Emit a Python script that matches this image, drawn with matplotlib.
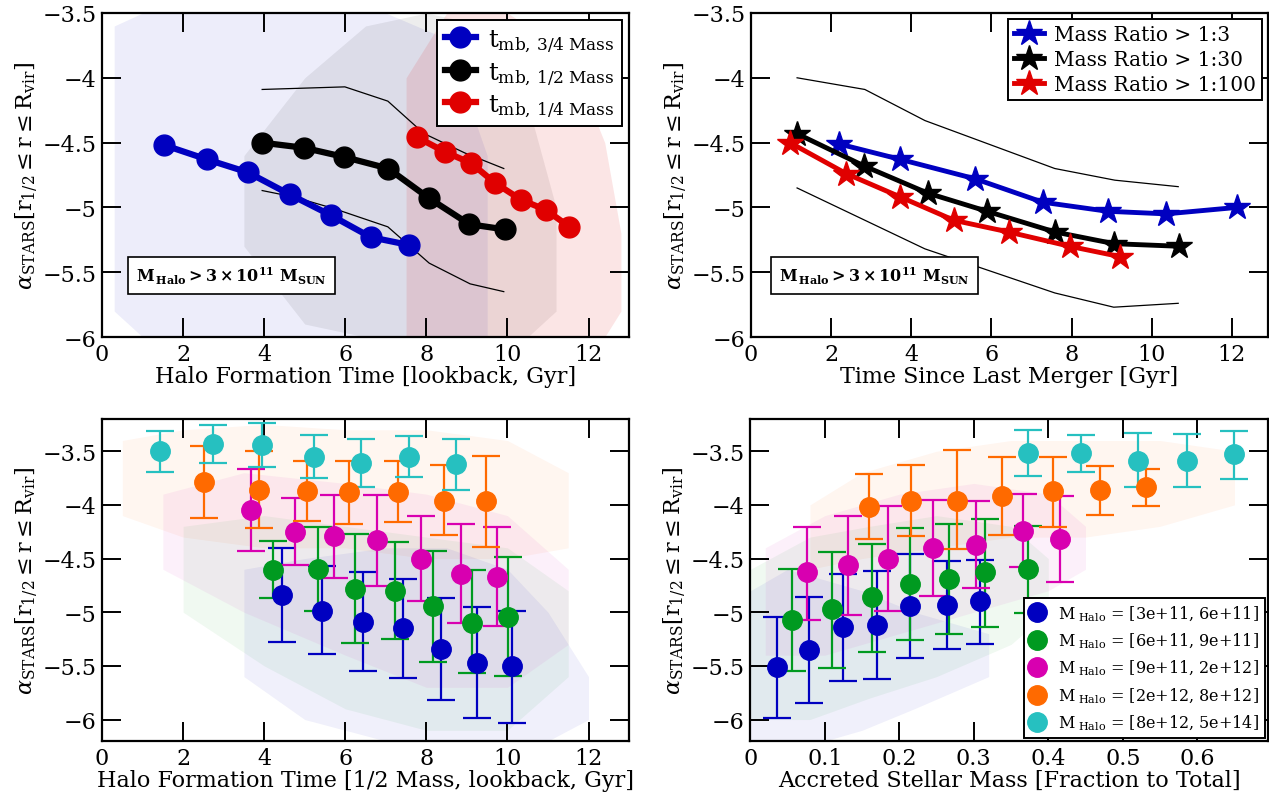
import numpy as np
import matplotlib
matplotlib.use("Agg")
import matplotlib.pyplot as plt
from matplotlib.ticker import FuncFormatter

plt.rcParams['font.family'] = ['DejaVu Serif']
plt.rcParams['mathtext.fontset'] = 'dejavuserif'

# ---- panel 1: halo formation time ----
tl_blue_x = [1.54, 2.59, 3.60, 4.63, 5.64, 6.63, 7.57]
tl_blue_y = [-4.52, -4.63, -4.73, -4.90, -5.06, -5.23, -5.29]
tl_black_x = [3.94, 4.98, 5.96, 7.06, 8.07, 9.06, 9.94]
tl_black_y = [-4.50, -4.54, -4.61, -4.70, -4.93, -5.13, -5.17]
tl_red_x = [7.78, 8.45, 9.11, 9.69, 10.33, 10.95, 11.53]
tl_red_y = [-4.46, -4.57, -4.66, -4.81, -4.94, -5.02, -5.15]
tl_up_x = [3.95, 5.99, 7.05, 7.94, 8.95, 9.91]
tl_up_y = [-4.09, -4.07, -4.18, -4.43, -4.58, -4.70]
tl_lo_x = [3.95, 4.74, 5.73, 7.05, 8.07, 9.08, 9.91]
tl_lo_y = [-4.87, -4.92, -5.01, -5.15, -5.43, -5.59, -5.65]

# scatter clouds, read as rough envelopes
tl_cblue_x = [0.3, 1.0, 3.0, 5.0, 7.0, 8.5, 9.5]
tl_cblue_hi = [-3.6, -3.5, -3.5, -3.5, -3.5, -3.7, -4.6]
tl_cblue_lo = [-5.8, -6.0, -6.0, -6.0, -6.0, -6.0, -6.0]
tl_cblack_x = [3.5, 5.0, 6.5, 8.0, 9.5, 10.5, 11.2]
tl_cblack_hi = [-4.6, -4.0, -3.6, -3.5, -3.6, -4.2, -5.0]
tl_cblack_lo = [-5.3, -5.9, -6.0, -6.0, -6.0, -6.0, -5.8]
tl_cred_x = [7.5, 8.5, 10.0, 11.5, 12.4, 12.8]
tl_cred_hi = [-4.0, -3.5, -3.5, -3.8, -4.5, -5.2]
tl_cred_lo = [-6.0, -6.0, -6.0, -6.0, -6.0, -5.8]

# ---- panel 2: time since last merger ----
tr_blue_x = [2.19, 3.73, 5.60, 7.28, 8.90, 10.36, 12.13]
tr_blue_y = [-4.51, -4.63, -4.78, -4.96, -5.03, -5.05, -5.00]
tr_black_x = [1.14, 2.82, 4.41, 5.89, 7.59, 9.06, 10.69]
tr_black_y = [-4.43, -4.68, -4.89, -5.03, -5.19, -5.28, -5.30]
tr_red_x = [0.97, 2.38, 3.73, 5.07, 6.43, 7.95, 9.21]
tr_red_y = [-4.50, -4.74, -4.92, -5.10, -5.19, -5.30, -5.38]
tr_up_x = [1.15, 2.84, 4.34, 7.58, 9.08, 10.66]
tr_up_y = [-4.00, -4.09, -4.33, -4.70, -4.79, -4.84]
tr_lo_x = [1.15, 4.34, 7.58, 9.05, 10.66]
tr_lo_y = [-4.85, -5.32, -5.66, -5.77, -5.74]

# ---- panel 3: formation time binned by halo mass ----
bl_x = {
    'blue': [4.45, 5.43, 6.43, 7.43, 8.36, 9.26, 10.11],
    'green': [4.22, 5.32, 6.24, 7.22, 8.17, 9.13, 10.01],
    'magenta': [3.67, 4.75, 5.71, 6.78, 7.88, 8.86, 9.74],
    'orange': [2.51, 3.88, 5.05, 6.10, 7.29, 8.44, 9.46],
    'cyan': [1.43, 2.73, 3.95, 5.24, 6.38, 7.57, 8.72],
}
bl_y = {
    'blue': [-4.84, -4.99, -5.09, -5.15, -5.34, -5.47, -5.50],
    'green': [-4.61, -4.60, -4.78, -4.80, -4.94, -5.10, -5.04],
    'magenta': [-4.05, -4.25, -4.29, -4.33, -4.50, -4.64, -4.67],
    'orange': [-3.79, -3.86, -3.87, -3.88, -3.88, -3.96, -3.96],
    'cyan': [-3.50, -3.43, -3.44, -3.55, -3.61, -3.55, -3.62],
}
bl_top = {
    'blue': [-4.40, -4.57, -4.63, -4.69, -4.87, -4.95, -4.99],
    'green': [-4.34, -4.21, -4.27, -4.35, -4.43, -4.61, -4.49],
    'magenta': [-3.67, -3.94, -3.91, -3.91, -4.10, -4.18, -4.21],
    'orange': [-3.45, -3.50, -3.59, -3.59, -3.59, -3.63, -3.54],
    'cyan': [-3.31, -3.26, -3.24, -3.35, -3.39, -3.36, -3.39],
}
bl_bot = {
    'blue': [-5.28, -5.39, -5.55, -5.61, -5.82, -5.99, -6.03],
    'green': [-4.87, -4.99, -5.29, -5.25, -5.46, -5.57, -5.59],
    'magenta': [-4.43, -4.56, -4.68, -4.76, -4.90, -5.10, -5.13],
    'orange': [-4.12, -4.22, -4.15, -4.18, -4.16, -4.28, -4.39],
    'cyan': [-3.69, -3.61, -3.65, -3.75, -3.83, -3.74, -3.86],
}
bl_cloud_x = {
    'blue': [3.5, 5.0, 7.0, 8.5, 10.0, 11.0, 12.0],
    'green': [2.0, 4.0, 6.0, 8.0, 10.0, 11.5],
    'magenta': [1.5, 3.5, 6.0, 8.0, 10.0, 11.5],
    'orange': [0.5, 2.0, 4.0, 6.0, 8.0, 10.0, 11.5],
}
bl_cloud_hi = {
    'blue': [-4.6, -4.5, -4.4, -4.4, -4.6, -5.0, -5.6],
    'green': [-4.2, -4.1, -4.2, -4.3, -4.4, -4.8],
    'magenta': [-3.9, -3.7, -3.8, -3.9, -4.1, -4.6],
    'orange': [-3.4, -3.3, -3.25, -3.3, -3.3, -3.4, -3.7],
}
bl_cloud_lo = {
    'blue': [-5.6, -6.0, -6.2, -6.2, -6.2, -6.2, -6.0],
    'green': [-5.0, -5.5, -5.9, -6.1, -6.1, -5.6],
    'magenta': [-4.6, -5.0, -5.4, -5.7, -5.7, -5.3],
    'orange': [-4.1, -4.3, -4.4, -4.4, -4.5, -4.5, -4.4],
}

# ---- panel 4: accreted stellar mass fraction ----
br_x = {
    'blue': [0.036, 0.079, 0.124, 0.170, 0.215, 0.264, 0.308],
    'green': [0.056, 0.110, 0.163, 0.214, 0.267, 0.315, 0.373],
    'magenta': [0.076, 0.131, 0.185, 0.245, 0.303, 0.366, 0.416],
    'orange': [0.159, 0.216, 0.278, 0.338, 0.406, 0.469, 0.531],
    'cyan': [0.373, 0.444, 0.520, 0.586, 0.649],
}
br_y = {
    'blue': [-5.51, -5.35, -5.14, -5.12, -4.94, -4.93, -4.90],
    'green': [-5.07, -4.97, -4.86, -4.74, -4.69, -4.63, -4.60],
    'magenta': [-4.63, -4.56, -4.50, -4.40, -4.37, -4.24, -4.32],
    'orange': [-4.02, -3.96, -3.96, -3.92, -3.87, -3.86, -3.83],
    'cyan': [-3.52, -3.52, -3.59, -3.59, -3.53],
}
br_top = {
    'blue': [-5.04, -4.86, -4.64, -4.62, -4.46, -4.52, -4.51],
    'green': [-4.60, -4.44, -4.36, -4.22, -4.18, -4.13, -4.20],
    'magenta': [-4.21, -4.10, -4.01, -3.95, -3.96, -3.90, -3.92],
    'orange': [-3.71, -3.63, -3.49, -3.55, -3.55, -3.64, -3.67],
    'cyan': [-3.30, -3.35, -3.33, -3.34, -3.31],
}
br_bot = {
    'blue': [-5.99, -5.85, -5.64, -5.62, -5.43, -5.34, -5.30],
    'green': [-5.55, -5.52, -5.37, -5.26, -5.20, -5.14, -5.01],
    'magenta': [-5.07, -5.03, -4.99, -4.85, -4.77, -4.58, -4.72],
    'orange': [-4.32, -4.29, -4.41, -4.28, -4.21, -4.09, -4.01],
    'cyan': [-3.73, -3.69, -3.83, -3.83, -3.76],
}
br_cloud_x = {
    'blue': [0.0, 0.05, 0.10, 0.15, 0.22, 0.32],
    'green': [0.0, 0.08, 0.16, 0.25, 0.35, 0.40],
    'magenta': [0.02, 0.10, 0.20, 0.30, 0.40, 0.45],
    'orange': [0.08, 0.15, 0.25, 0.35, 0.45, 0.55, 0.65],
}
br_cloud_hi = {
    'blue': [-4.8, -4.6, -4.7, -4.8, -5.0, -5.2],
    'green': [-4.6, -4.3, -4.2, -4.1, -4.2, -4.5],
    'magenta': [-4.4, -4.1, -3.9, -3.8, -3.9, -4.2],
    'orange': [-4.0, -3.7, -3.5, -3.4, -3.4, -3.4, -3.5],
}
br_cloud_lo = {
    'blue': [-6.2, -6.2, -6.2, -6.1, -5.9, -5.6],
    'green': [-6.0, -6.0, -5.8, -5.6, -5.3, -5.0],
    'magenta': [-5.4, -5.4, -5.2, -5.0, -4.8, -4.6],
    'orange': [-4.6, -4.5, -4.4, -4.3, -4.3, -4.2, -4.0],
}

mass_bins = ['[3e+11, 6e+11]', '[6e+11, 9e+11]', '[9e+11, 2e+12]',
             '[2e+12, 8e+12]', '[8e+12, 5e+14]']
bin_keys = ['blue', 'green', 'magenta', 'orange', 'cyan']
colors = {'blue': '#0000c0', 'green': '#009a20', 'magenta': '#d800b0',
          'orange': '#ff6a00', 'cyan': '#26c0c0', 'red': '#e00000',
          'black': '#000000'}

ylabel = r'$\alpha_{\rm STARS}[\rm r_{1/2} \leq r \leq R_{vir}]$'
note = r'$\mathbf{M_{\,Halo} > 3 \times 10^{11}\ M_{SUN}}$'


def fmt(v, pos):
    return ('%g' % v).replace('-', '\u2212')


def style(ax, xlim, ylim, xticks, yticks, xlabel):
    ax.set_xlim(*xlim)
    ax.set_ylim(*ylim)
    ax.set_xticks(xticks)
    ax.set_yticks(yticks)
    ax.xaxis.set_major_formatter(FuncFormatter(fmt))
    ax.yaxis.set_major_formatter(FuncFormatter(fmt))
    ax.tick_params(direction='in', length=14, width=1.4, labelsize=16,
                   top=True, right=True, pad=4)
    for s in ax.spines.values():
        s.set_linewidth(1.6)
    ax.set_xlabel(xlabel, fontsize=16, labelpad=0)
    ax.set_ylabel(ylabel, fontsize=16, labelpad=2)


def note_box(ax, x, y):
    ax.text(x, y, note, transform=ax.transAxes, fontsize=11.5, va='center',
            ha='left', zorder=10,
            bbox=dict(boxstyle='square,pad=0.5', fc='white', ec='black', lw=1.2))


fig = plt.figure(figsize=(12.69, 8.04), dpi=100)
ax1 = fig.add_axes([0.0804, 0.5796, 0.4153, 0.4030])
ax2 = fig.add_axes([0.5918, 0.5796, 0.4074, 0.4030])
ax3 = fig.add_axes([0.0804, 0.0771, 0.4153, 0.4005])
ax4 = fig.add_axes([0.5913, 0.0771, 0.4079, 0.4005])

# panel 1
ax1.fill_between(tl_cblue_x, tl_cblue_lo, tl_cblue_hi, color=colors['blue'], alpha=0.07, lw=0)
ax1.fill_between(tl_cblack_x, tl_cblack_lo, tl_cblack_hi, color='black', alpha=0.07, lw=0)
ax1.fill_between(tl_cred_x, tl_cred_lo, tl_cred_hi, color=colors['red'], alpha=0.10, lw=0)
ax1.plot(tl_up_x, tl_up_y, color='black', lw=0.9)
ax1.plot(tl_lo_x, tl_lo_y, color='black', lw=0.9)
ax1.plot(tl_blue_x, tl_blue_y, '-o', color=colors['blue'], lw=4.5, ms=15,
         label=r'$\rm t_{mb,\,3/4\;Mass}$')
ax1.plot(tl_black_x, tl_black_y, '-o', color='black', lw=4.5, ms=15,
         label=r'$\rm t_{mb,\,1/2\;Mass}$')
ax1.plot(tl_red_x, tl_red_y, '-o', color=colors['red'], lw=4.5, ms=15,
         label=r'$\rm t_{mb,\,1/4\;Mass}$')
style(ax1, (0, 13), (-6, -3.5), range(0, 13, 2), np.arange(-6, -3.4, 0.5),
      'Halo Formation Time [lookback, Gyr]')
ax1.legend(loc='upper right', fontsize=17.5, fancybox=False, edgecolor='black',
           framealpha=1, handlelength=1.3, borderaxespad=0.3, labelspacing=0.25,
           handletextpad=0.5, borderpad=0.3).get_frame().set_linewidth(1.4)
note_box(ax1, 0.065, 0.19)

# panel 2
ax2.plot(tr_up_x, tr_up_y, color='black', lw=0.9)
ax2.plot(tr_lo_x, tr_lo_y, color='black', lw=0.9)
ax2.plot(tr_blue_x, tr_blue_y, '-*', color=colors['blue'], lw=3.5, ms=19,
         label='Mass Ratio > 1:3')
ax2.plot(tr_black_x, tr_black_y, '-*', color='black', lw=3.5, ms=19,
         label='Mass Ratio > 1:30')
ax2.plot(tr_red_x, tr_red_y, '-*', color=colors['red'], lw=3.5, ms=19,
         label='Mass Ratio > 1:100')
style(ax2, (0, 12.9), (-6, -3.5), range(0, 13, 2), np.arange(-6, -3.4, 0.5),
      'Time Since Last Merger [Gyr]')
ax2.legend(loc='upper right', fontsize=14.5, fancybox=False, edgecolor='black',
           framealpha=1, handlelength=1.5, borderaxespad=0.3, labelspacing=0.3,
           handletextpad=0.5, borderpad=0.3).get_frame().set_linewidth(1.4)
note_box(ax2, 0.055, 0.19)

# panel 3
for k in ['orange', 'magenta', 'green', 'blue']:
    ax3.fill_between(bl_cloud_x[k], bl_cloud_lo[k], bl_cloud_hi[k],
                     color=colors[k], alpha=0.06, lw=0)
for k in bin_keys:
    y = np.array(bl_y[k])
    err = [y - np.array(bl_bot[k]), np.array(bl_top[k]) - y]
    ax3.errorbar(bl_x[k], y, yerr=err, fmt='o', color=colors[k], ms=14,
                 elinewidth=1.6, capsize=10, capthick=1.6)
style(ax3, (0, 13), (-6.2, -3.2), range(0, 13, 2), np.arange(-6, -3.4, 0.5),
      'Halo Formation Time [1/2 Mass, lookback, Gyr]')

# panel 4
for k in ['orange', 'magenta', 'green', 'blue']:
    ax4.fill_between(br_cloud_x[k], br_cloud_lo[k], br_cloud_hi[k],
                     color=colors[k], alpha=0.06, lw=0)
handles = []
for k, lab in zip(bin_keys, mass_bins):
    y = np.array(br_y[k])
    err = [y - np.array(br_bot[k]), np.array(br_top[k]) - y]
    ax4.errorbar(br_x[k], y, yerr=err, fmt='o', color=colors[k], ms=14,
                 elinewidth=1.6, capsize=10, capthick=1.6)
    h, = ax4.plot([], [], 'o', color=colors[k], ms=14,
                  label=r'$\rm M_{\ Halo}$ = ' + lab)
    handles.append(h)
style(ax4, (0, 0.695), (-6.2, -3.2), np.arange(0, 0.65, 0.1),
      np.arange(-6, -3.4, 0.5), 'Accreted Stellar Mass [Fraction to Total]')
ax4.legend(handles=handles, loc='lower right', fontsize=11.5, fancybox=False,
           edgecolor='black', framealpha=1, handlelength=1.0,
           borderaxespad=0.2, labelspacing=0.5, handletextpad=0.8,
           borderpad=0.35).get_frame().set_linewidth(1.4)

fig.savefig('out.png', dpi=100)
